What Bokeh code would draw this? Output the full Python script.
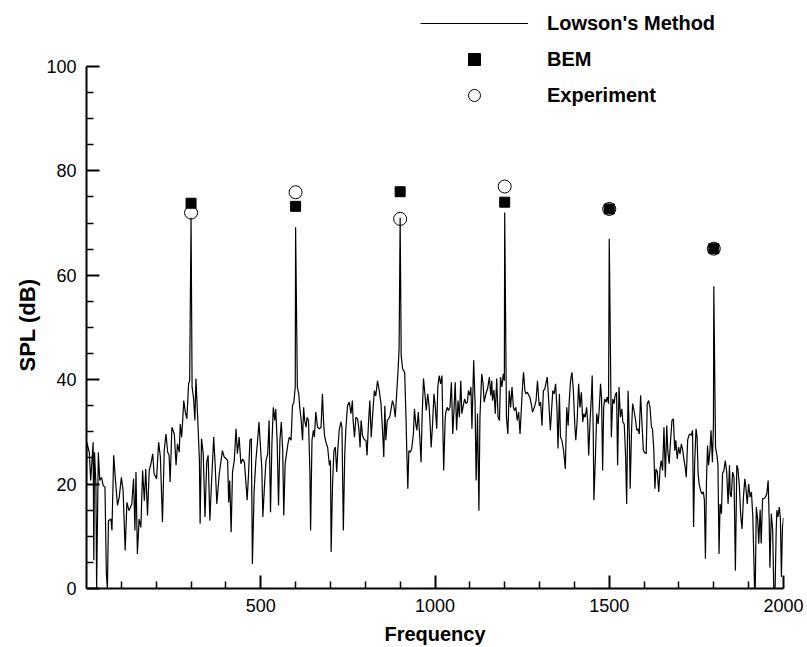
import math
from bokeh.plotting import figure
from bokeh.models import Range1d, FixedTicker, Legend, LegendItem, Title
from bokeh.embed import file_html
from bokeh.resources import INLINE

# Lowson's Method spectrum
freq = [0, 1, 8, 12, 19, 21, 23, 27, 29, 34, 38, 43, 48, 53, 57, 60, 63, 70, 73, 78,
        84, 89, 94, 100, 105, 111, 116, 122, 130, 135, 139, 142, 146, 151, 156, 161, 166, 170, 175, 180,
        185, 190, 194, 201, 207, 212, 218, 223, 228, 233, 237, 240, 245, 252, 257, 261, 266, 269, 273, 276,
        279, 283, 288, 293, 296, 300, 303, 307, 311, 314, 319, 324, 326, 330, 335, 340, 345, 349, 354, 359,
        365, 369, 374, 381, 390, 395, 400, 405, 408, 411, 415, 419, 424, 429, 433, 438, 443, 448, 453, 457,
        461, 465, 469, 473, 476, 481, 486, 491, 495, 498, 503, 506, 510, 515, 520, 524, 528, 532, 536, 540,
        543, 547, 551, 555, 559, 563, 566, 570, 574, 578, 582, 587, 591, 595, 599, 600, 605, 609, 612, 616,
        620, 623, 626, 630, 633, 637, 641, 643, 647, 651, 654, 658, 663, 668, 673, 677, 680, 683, 687, 692,
        697, 700, 702, 706, 710, 714, 718, 721, 725, 730, 733, 737, 741, 744, 749, 754, 759, 763, 765, 769,
        773, 778, 782, 785, 788, 792, 797, 802, 805, 809, 813, 817, 821, 826, 830, 835, 840, 845, 850, 853,
        856, 859, 863, 867, 871, 874, 878, 882, 886, 890, 894, 897, 900, 903, 907, 913, 917, 919, 922, 925,
        929, 933, 938, 941, 945, 948, 952, 956, 960, 963, 967, 971, 975, 979, 983, 986, 989, 993, 997, 1001,
        1005, 1008, 1012, 1016, 1020, 1023, 1025, 1029, 1031, 1035, 1039, 1043, 1047, 1051, 1054, 1058, 1062, 1066, 1070, 1074,
        1077, 1081, 1085, 1089, 1093, 1096, 1100, 1103, 1106, 1111, 1115, 1118, 1122, 1126, 1129, 1134, 1138, 1141, 1146, 1151,
        1156, 1160, 1163, 1165, 1169, 1173, 1177, 1181, 1185, 1188, 1192, 1196, 1199, 1200, 1205, 1209, 1213, 1217, 1221, 1225,
        1228, 1232, 1236, 1240, 1244, 1248, 1251, 1254, 1258, 1261, 1265, 1269, 1272, 1276, 1280, 1285, 1290, 1294, 1299, 1303,
        1307, 1311, 1315, 1318, 1322, 1326, 1331, 1335, 1338, 1342, 1346, 1350, 1353, 1357, 1360, 1364, 1369, 1374, 1378, 1382,
        1385, 1389, 1393, 1397, 1401, 1404, 1408, 1412, 1416, 1420, 1424, 1427, 1431, 1435, 1438, 1441, 1445, 1449, 1451, 1454,
        1456, 1460, 1464, 1468, 1471, 1475, 1478, 1481, 1484, 1487, 1491, 1494, 1498, 1500, 1506, 1510, 1514, 1517, 1521, 1524,
        1528, 1532, 1536, 1539, 1543, 1547, 1550, 1554, 1558, 1560, 1564, 1567, 1571, 1575, 1579, 1582, 1586, 1590, 1594, 1598,
        1602, 1606, 1609, 1613, 1617, 1621, 1624, 1628, 1631, 1634, 1638, 1642, 1646, 1649, 1653, 1657, 1661, 1665, 1668, 1672,
        1676, 1680, 1684, 1688, 1691, 1695, 1699, 1703, 1707, 1711, 1714, 1718, 1721, 1725, 1728, 1732, 1735, 1739, 1742, 1745,
        1749, 1752, 1755, 1758, 1762, 1766, 1770, 1773, 1776, 1779, 1782, 1785, 1789, 1792, 1796, 1799, 1800, 1805, 1809, 1812,
        1815, 1818, 1822, 1825, 1829, 1833, 1837, 1841, 1845, 1847, 1850, 1854, 1858, 1862, 1866, 1869, 1873, 1877, 1881, 1885,
        1889, 1892, 1896, 1900, 1904, 1908, 1912, 1915, 1917, 1919, 1922, 1926, 1929, 1933, 1936, 1940, 1944, 1948, 1952, 1956,
        1959, 1961, 1965, 1969, 1972, 1976, 1979, 1981, 1984, 1988, 1991, 1994, 1997, 2000]
spl = [20.0, 28.0, 26.1, 20.7, 28.0, 5.4, 26.1, 20.0, 0.0, 26.1, 20.7, 21.3, 19.7, 19.4, 2.8, 0.0, 13.0, 13.3, 11.1, 25.5,
       20.0, 15.9, 17.5, 21.3, 18.8, 7.3, 16.5, 14.9, 16.2, 21.0, 11.1, 22.3, 6.6, 13.3, 11.7, 22.6, 16.8, 22.9, 14.0, 22.6,
       23.9, 25.8, 22.0, 21.0, 28.0, 25.2, 12.7, 26.4, 29.6, 26.1, 25.5, 20.4, 30.9, 29.6, 23.6, 27.7, 26.1, 31.5, 29.0, 32.2,
       36.0, 34.0, 32.5, 39.2, 39.8, 71.0, 38.6, 36.6, 32.2, 40.2, 32.8, 24.5, 12.4, 28.7, 25.8, 13.7, 24.2, 25.5, 13.0, 20.7,
       29.0, 23.9, 16.2, 22.0, 26.4, 25.2, 24.9, 24.5, 16.5, 20.7, 10.8, 22.3, 24.5, 30.6, 25.8, 29.0, 23.9, 24.8, 24.2, 20.7,
       16.9, 22.0, 28.4, 28.7, 4.7, 18.8, 24.5, 28.4, 31.9, 28.4, 23.2, 13.7, 18.8, 24.5, 25.8, 32.2, 14.6, 27.7, 34.7, 32.2,
       34.4, 28.4, 15.9, 28.4, 31.9, 26.4, 14.0, 23.9, 25.8, 27.7, 29.0, 28.4, 35.0, 35.7, 38.6, 69.2, 38.6, 37.3, 34.7, 32.2,
       28.4, 34.7, 32.2, 30.9, 32.8, 32.2, 22.3, 11.1, 28.4, 30.3, 29.0, 33.8, 30.9, 30.6, 30.9, 37.3, 32.2, 29.3, 28.0, 27.0,
       23.6, 24.5, 7.0, 20.0, 26.4, 27.1, 22.3, 26.4, 30.3, 31.9, 30.9, 11.1, 25.8, 30.3, 35.0, 35.7, 33.5, 36.0, 32.2, 29.0,
       32.8, 32.5, 30.3, 27.0, 32.2, 29.3, 28.5, 28.4, 25.5, 31.5, 36.0, 29.0, 33.2, 37.9, 36.9, 39.8, 37.9, 35.4, 29.6, 25.2,
       35.0, 28.4, 32.2, 32.5, 33.1, 34.4, 36.0, 35.0, 32.8, 37.3, 41.8, 46.0, 71.0, 44.6, 42.1, 41.4, 32.2, 26.4, 19.1, 26.4,
       26.1, 26.7, 29.6, 34.4, 31.5, 30.3, 33.8, 29.3, 24.2, 32.8, 40.2, 37.3, 34.1, 37.3, 35.0, 31.5, 27.0, 31.5, 37.3, 34.7,
       30.6, 38.6, 40.8, 39.2, 40.8, 29.0, 22.6, 32.2, 33.8, 34.7, 34.1, 34.7, 39.5, 29.6, 33.5, 39.5, 30.3, 36.0, 32.8, 39.8,
       33.5, 35.0, 36.3, 35.4, 35.7, 37.9, 37.0, 38.6, 30.6, 43.7, 35.4, 20.7, 33.5, 14.9, 32.8, 41.1, 39.2, 35.7, 37.3, 38.3,
       40.5, 37.0, 39.8, 36.0, 38.0, 33.5, 40.2, 32.8, 32.2, 40.5, 38.6, 41.1, 39.8, 72.0, 32.8, 29.6, 37.9, 34.7, 38.6, 34.7,
       34.1, 34.7, 32.2, 33.8, 29.6, 34.7, 38.6, 41.4, 37.9, 37.3, 37.6, 37.0, 36.7, 35.4, 33.8, 34.7, 36.0, 39.8, 35.0, 35.7,
       31.2, 37.9, 38.2, 39.2, 40.5, 36.3, 30.3, 34.7, 37.9, 37.3, 39.2, 34.4, 26.8, 37.3, 29.0, 28.4, 26.4, 22.9, 34.7, 31.2,
       35.7, 39.8, 41.4, 37.9, 31.5, 28.4, 32.2, 39.2, 34.7, 37.6, 31.9, 33.5, 32.8, 34.7, 32.2, 25.5, 32.2, 37.0, 40.8, 30.3,
       16.9, 24.5, 33.5, 31.5, 34.1, 39.2, 36.3, 22.6, 34.7, 36.3, 35.7, 36.7, 35.4, 67.0, 29.0, 36.3, 35.4, 37.0, 37.6, 23.6,
       38.6, 32.8, 34.4, 31.9, 31.5, 25.2, 16.2, 37.9, 28.4, 19.1, 30.3, 35.4, 34.1, 32.5, 30.3, 30.6, 29.6, 37.0, 31.5, 26.4,
       26.0, 25.8, 35.4, 36.0, 34.7, 30.9, 30.6, 26.4, 19.1, 22.9, 22.3, 18.5, 23.2, 24.5, 22.6, 30.9, 21.3, 31.2, 26.4, 23.9,
       28.4, 32.2, 32.5, 26.4, 28.4, 24.8, 27.1, 25.8, 27.7, 26.4, 24.8, 23.2, 21.3, 28.4, 29.3, 29.6, 29.3, 30.3, 11.8, 23.9,
       30.6, 29.0, 22.0, 20.0, 18.8, 18.1, 18.5, 16.9, 5.7, 20.7, 27.4, 23.6, 26.4, 30.3, 24.2, 31.5, 57.9, 27.0, 25.5, 23.6,
       6.6, 16.2, 14.3, 22.0, 22.6, 24.5, 22.3, 16.2, 23.6, 18.1, 17.5, 22.3, 21.3, 3.4, 23.6, 23.0, 20.0, 14.3, 11.4, 17.4,
       21.0, 19.4, 16.2, 20.0, 17.5, 18.5, 13.7, 5.4, 0.0, 0.3, 15.6, 13.1, 8.6, 15.1, 8.6, 17.2, 17.2, 17.5, 18.1, 20.7,
       13.0, 4.0, 14.3, 11.1, 0.0, 0.3, 11.1, 15.0, 13.7, 15.6, 13.4, 2.2, 11.7, 13.5]

# Discrete tones
tone_freq = [300, 600, 900, 1200, 1500, 1800]
bem_spl = [73.8, 73.2, 76.0, 74.0, 72.7, 65.1]
exp_spl = [72.0, 75.9, 70.8, 77.0, 72.7, 65.1]

x_major = [500, 1000, 1500, 2000]
x_minor = [100, 200, 300, 400, 600, 700, 800, 900, 1100, 1200, 1300, 1400, 1600, 1700, 1800, 1900]
y_major = [0, 20, 40, 60, 80, 100]
y_minor = [5, 10, 15, 25, 30, 35, 45, 50, 55, 65, 70, 75, 85, 90, 95]

FONT = "Liberation Sans"

p = figure(width=807, height=647, output_backend="svg", toolbar_location=None,
           x_range=Range1d(0, 2000), y_range=Range1d(0, 111.1),
           min_border_left=86, min_border_right=24, min_border_top=8, min_border_bottom=59)
p.outline_line_color = None
p.xgrid.visible = False
p.ygrid.visible = False
p.background_fill_color = "white"
p.border_fill_color = "white"

for ax in (p.xaxis[0], p.yaxis[0]):
    ax.axis_line_width = 2
    ax.axis_line_color = "black"
    ax.major_tick_in = 13
    ax.major_tick_out = 0
    ax.minor_tick_in = 7
    ax.minor_tick_out = 0
    ax.major_tick_line_width = 2
    ax.minor_tick_line_width = 1.5
    ax.major_tick_line_color = "black"
    ax.minor_tick_line_color = "black"
    ax.major_label_text_font = FONT
    ax.major_label_text_font_size = "18px"
    ax.major_label_text_color = "black"

p.xaxis.ticker = FixedTicker(ticks=x_major, minor_ticks=x_minor)
p.yaxis.ticker = FixedTicker(ticks=y_major, minor_ticks=y_minor)
p.xaxis.bounds = (0, 2000)
p.yaxis.bounds = (0, 100)
p.xaxis.major_label_standoff = 10
p.yaxis.major_label_standoff = 10
p.xaxis.axis_label = "Frequency"
p.xaxis.axis_label_text_font = FONT
p.xaxis.axis_label_text_font_style = "bold"
p.xaxis.axis_label_text_font_size = "20px"
p.xaxis.axis_label_text_color = "black"
p.xaxis.axis_label_standoff = 8

r_line = p.line(freq, spl, line_color="black", line_width=1.2)
r_bem = p.scatter(tone_freq, bem_spl, marker="square", size=10,
                  fill_color="black", line_color="black")
r_exp = p.scatter(tone_freq, exp_spl, marker="circle", size=13,
                  fill_color=None, line_color="black", line_width=1)

ytitle = Title(text="SPL (dB)", align="left", offset=217, standoff=8,
               text_font=FONT, text_font_style="bold", text_font_size="22px",
               text_color="black")
p.add_layout(ytitle, "left")

legend = Legend(items=[LegendItem(label="Lowson's Method", renderers=[r_line]),
                       LegendItem(label="BEM", renderers=[r_bem]),
                       LegendItem(label="Experiment", renderers=[r_exp])],
                location=(334, 478), glyph_width=108, glyph_height=30,
                label_standoff=19, spacing=6, padding=0, margin=0,
                border_line_color=None, background_fill_alpha=0,
                label_text_font=FONT, label_text_font_style="bold",
                label_text_font_size="20px", label_text_color="black")
p.add_layout(legend)

open("out.html", "w").write(file_html(p, INLINE))
